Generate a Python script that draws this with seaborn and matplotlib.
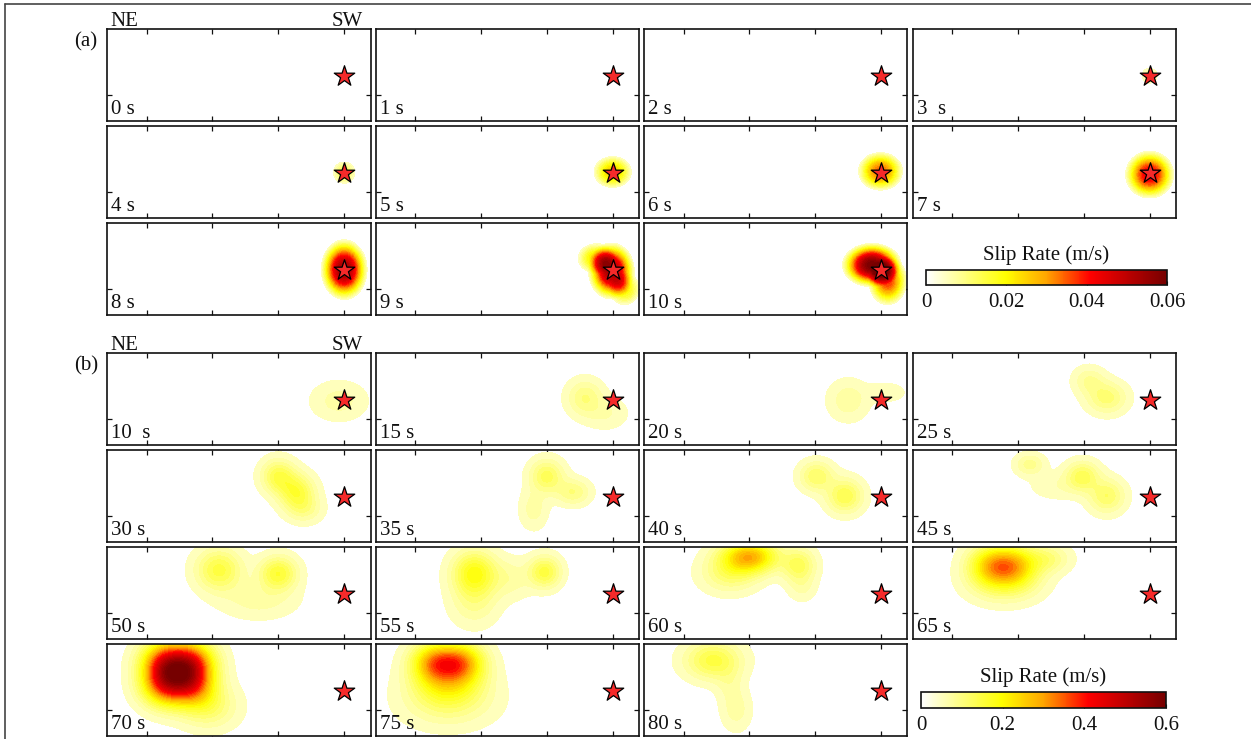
import numpy as np
import matplotlib
matplotlib.use('Agg')
import matplotlib.pyplot as plt
import seaborn as sns
from matplotlib.colors import LinearSegmentedColormap, Normalize
from matplotlib.cm import ScalarMappable
from matplotlib.lines import Line2D

sns.set_theme(style='white')
plt.rcParams['font.family'] = ['Liberation Serif', 'DejaVu Serif']

# ---------------- data ----------------
hypo_x = [360]
hypo_y = [69]

a_labels = ['0 s', '1 s', '2 s', '3  s', '4 s', '5 s', '6 s', '7 s', '8 s', '9 s', '10 s']
# early slip-rate patches: (x along strike, y along dip, peak m/s, half-width x, half-width y)
a_patches = [
    [],
    [],
    [],
    [(360, 69, 0.005, 14, 14)],
    [(360, 69, 0.011, 18, 18)],
    [(360, 70, 0.024, 30, 25)],
    [(359, 71, 0.033, 35, 30)],
    [(360, 66, 0.043, 38, 37)],
    [(360, 69, 0.055, 36, 47)],
    [(358, 67, 0.054, 36, 44), (336, 86, 0.022, 30, 24), (378, 40, 0.018, 24, 26)],
    [(346, 76, 0.060, 46, 34), (370, 52, 0.036, 30, 38)],
]
a_vmax = 0.06
a_ticks = [0, 0.02, 0.04, 0.06]
a_ticklabels = ['0', '0.02', '0.04', '0.06']

b_labels = ['10  s', '15 s', '20 s', '25 s', '30 s', '35 s', '40 s', '45 s',
            '50 s', '55 s', '60 s', '65 s', '70 s', '75 s', '80 s']
# later slip-rate asperities: (x along strike, y along dip, peak m/s, spread x, spread y)
b_patches = [
    [(352, 67, 0.040, 27, 19)],
    [(318, 72, 0.070, 18, 18), (350, 48, 0.030, 22, 16)],
    [(310, 68, 0.045, 20, 20), (368, 80, 0.025, 20, 10)],
    [(268, 98, 0.050, 16, 14), (295, 72, 0.080, 20, 16)],
    [(260, 100, 0.110, 17, 17), (288, 76, 0.120, 18, 18), (300, 50, 0.050, 18, 14)],
    [(260, 100, 0.100, 17, 17), (300, 76, 0.070, 17, 13), (240, 50, 0.040, 14, 20)],
    [(262, 100, 0.090, 17, 15), (305, 70, 0.110, 18, 17)],
    [(178, 118, 0.060, 15, 11), (258, 100, 0.100, 17, 15), (295, 70, 0.090, 18, 17), (220, 85, 0.025, 28, 14)],
    [(170, 105, 0.120, 23, 21), (260, 100, 0.130, 19, 17), (230, 60, 0.040, 38, 19)],
    [(150, 100, 0.160, 22, 22), (257, 102, 0.120, 16, 16), (150, 55, 0.050, 24, 24), (205, 92, 0.040, 22, 20)],
    [(160, 125, 0.260, 28, 16), (235, 112, 0.100, 17, 17), (240, 78, 0.030, 14, 14), (130, 100, 0.080, 28, 19)],
    [(120, 112, 0.200, 24, 20), (155, 112, 0.200, 24, 20), (140, 85, 0.080, 35, 20), (205, 122, 0.070, 22, 14)],
    [(88, 112, 0.320, 24, 22), (128, 112, 0.320, 24, 22), (88, 78, 0.300, 24, 22), (128, 78, 0.280, 24, 22),
     (155, 45, 0.080, 28, 22)],
    [(90, 112, 0.250, 24, 20), (130, 112, 0.250, 24, 20), (110, 80, 0.140, 35, 22), (110, 50, 0.060, 45, 25)],
    [(105, 115, 0.120, 28, 19), (140, 40, 0.040, 15, 21), (130, 80, 0.030, 14, 19)],
]
b_vmax = 0.6
b_ticks = [0, 0.2, 0.4, 0.6]
b_ticklabels = ['0', '0.2', '0.4', '0.6']

# ---------------- styling ----------------
W, H = 1251, 739
fig = plt.figure(figsize=(W / 100, H / 100), dpi=100)
fig.patch.set_facecolor('white')

cmap = LinearSegmentedColormap.from_list(
    'slip', [(0.0, '#ffffff'), (0.33, '#ffff00'), (0.5, '#ffa500'),
             (0.68, '#ff0000'), (1.0, '#760000')])

col_left = [107, 375.5, 644, 912.5]
pw = 263.5
a_tops = [29, 126, 223]
b_tops = [353, 450, 547, 644]
ph = 92
FS = 15

xg = np.linspace(0, 400, 321)
yg = np.linspace(0, 140, 113)
X, Y = np.meshgrid(xg, yg)


def px_axes(left, top, w, h):
    return fig.add_axes([left / W, 1 - (top + h) / H, w / W, h / H])


def field(patches, profile):
    Z = np.zeros_like(X)
    for (cx, cy, amp, rx, ry) in patches:
        d2 = ((X - cx) / rx) ** 2 + ((Y - cy) / ry) ** 2
        if profile == 'compact':
            Z += amp * np.clip(1 - d2, 0, None) ** 1.5
        else:
            Z += amp * np.exp(-0.5 * d2)
    return Z


def draw_panel(ax, patches, label, vmax, profile):
    ax.set_facecolor('white')
    Z = field(patches, profile)
    levels = np.linspace(vmax / 60, vmax, 30)
    if Z.max() > levels[0]:
        ax.contourf(X, Y, Z, levels=levels, cmap=cmap,
                    norm=Normalize(-0.06 * vmax, vmax), extend='max')
    sns.scatterplot(x=hypo_x, y=hypo_y, marker='*', s=240, color='#f52a2a',
                    edgecolor='black', linewidth=0.9, ax=ax, zorder=5, legend=False)
    ax.set_xlim(0, 400)
    ax.set_ylim(0, 140)
    ax.set_xticks([60, 160, 260, 360])
    ax.set_yticks([40])
    ax.set_xticklabels([])
    ax.set_yticklabels([])
    ax.set_xlabel('')
    ax.set_ylabel('')
    ax.tick_params(direction='in', length=3.5, width=0.9, color='#111111',
                   top=True, bottom=True, left=True, right=True)
    for sp in ax.spines.values():
        sp.set_visible(True)
        sp.set_color('#111111')
        sp.set_linewidth(1.2)
    ax.text(0.017, 0.075, label, transform=ax.transAxes, ha='left', va='baseline',
            fontsize=FS, color='#111111')


def draw_group(patches, labels, tops, vmax, profile):
    for i, (p, lab) in enumerate(zip(patches, labels)):
        r, c = divmod(i, 4)
        ax = px_axes(col_left[c], tops[r], pw, ph)
        draw_panel(ax, p, lab, vmax, profile)


draw_group(a_patches, a_labels, a_tops, a_vmax, 'compact')
draw_group(b_patches, b_labels, b_tops, b_vmax, 'gauss')


def draw_cbar(left, top, w, h, vmax, ticks, ticklabels, title_y):
    cax = px_axes(left, top, w, h)
    sm = ScalarMappable(norm=Normalize(0, vmax), cmap=cmap)
    cb = fig.colorbar(sm, cax=cax, orientation='horizontal')
    cb.set_ticks(ticks)
    cb.set_ticklabels(ticklabels)
    cb.outline.set_edgecolor('#111111')
    cb.outline.set_linewidth(1.2)
    cax.tick_params(direction='in', length=3, width=0.8, color='#111111',
                    labelsize=FS, pad=6, labelcolor='#111111')
    fig.text((left + w / 2) / W, 1 - title_y / H, 'Slip Rate (m/s)', ha='center',
             va='center', fontsize=FS, color='#111111')


draw_cbar(926, 270, 241, 15, a_vmax, a_ticks, a_ticklabels, 255)
draw_cbar(921, 692, 245, 16, b_vmax, b_ticks, b_ticklabels, 677)

# group annotations
for top, tag, tag_y in [(a_tops[0], '(a)', 42), (b_tops[0], '(b)', 366)]:
    fig.text(110 / W, 1 - (top - 3) / H, 'NE', ha='left', va='baseline', fontsize=FS, color='#111111')
    fig.text(363 / W, 1 - (top - 3) / H, 'SW', ha='right', va='baseline', fontsize=FS, color='#111111')
    fig.text(86 / W, 1 - tag_y / H, tag, ha='center', va='center', fontsize=FS, color='#111111')

# outer frame lines (top and left)
fig.add_artist(Line2D([5 / W, 1], [1 - 4 / H, 1 - 4 / H], transform=fig.transFigure,
                      color='#444444', linewidth=1.2))
fig.add_artist(Line2D([5 / W, 5 / W], [0, 1 - 4 / H], transform=fig.transFigure,
                      color='#444444', linewidth=1.2))

fig.savefig('out.png', dpi=100, facecolor='white')
